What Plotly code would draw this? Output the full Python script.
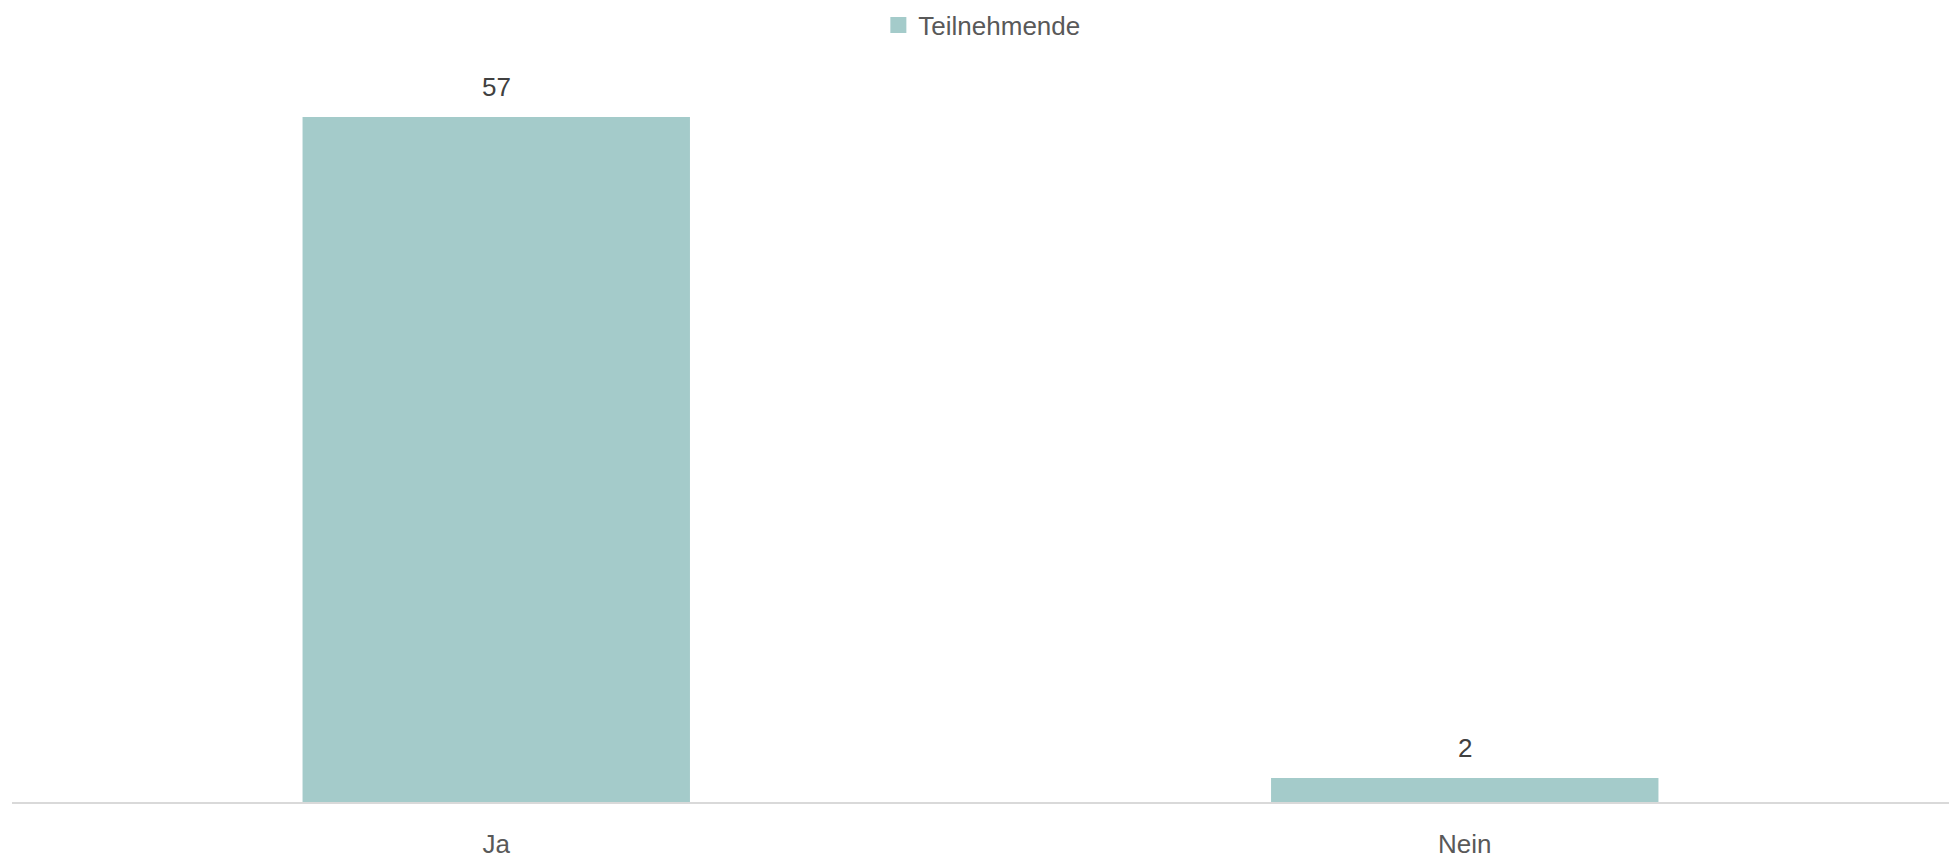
import plotly.graph_objects as go

# Survey answers and respondent counts
categories = ["Ja", "Nein"]
teilnehmende = [57, 2]
series_name = "Teilnehmende"

BAR_COLOR = "#A4CBCA"
FONT = "Liberation Sans Narrow, Arial Narrow, Liberation Sans, Arial, sans-serif"
FS = 26

fig = go.Figure()
fig.add_trace(
    go.Bar(
        x=categories,
        y=teilnehmende,
        name=series_name,
        legendgroup="t",
        marker=dict(color=BAR_COLOR, line=dict(width=0)),
        width=0.4,
        showlegend=False,
    )
)
# Legend entry with a larger square swatch
fig.add_trace(
    go.Scatter(
        x=[None], y=[None], mode="markers", name=series_name,
        legendgroup="t", showlegend=True,
        marker=dict(symbol="square", size=17, color=BAR_COLOR),
    )
)

# Value labels above each bar
for cat, val in zip(categories, teilnehmende):
    fig.add_annotation(
        x=cat, y=val, text=str(val), showarrow=False,
        yanchor="middle", yshift=30,
        font=dict(family=FONT, size=FS, color="#404040"),
    )

fig.update_layout(
    width=1952, height=859,
    margin=dict(l=12, r=3, t=81, b=57, autoexpand=False),
    paper_bgcolor="white", plot_bgcolor="white",
    font=dict(family=FONT, size=FS, color="#595959"),
    bargap=0.6,
    legend=dict(
        orientation="h", x=0.503, xanchor="center",
        y=1 - 25 / 859, yanchor="middle", yref="container", xref="container",
        font=dict(family=FONT, size=FS, color="#595959"),
        itemwidth=30, itemsizing="trace", bgcolor="rgba(0,0,0,0)",
    ),
    xaxis=dict(
        range=[-0.5, 1.5], showgrid=False, zeroline=False, automargin=False,
        showline=True, linecolor="#D9D9D9", linewidth=2,
        ticks="outside", ticklen=18, tickcolor="rgba(0,0,0,0)",
        tickfont=dict(family=FONT, size=FS, color="#595959"),
    ),
    yaxis=dict(
        range=[0, 60], visible=False, showgrid=False, zeroline=False,
        automargin=False,
    ),
)

fig.write_html("out.html")
